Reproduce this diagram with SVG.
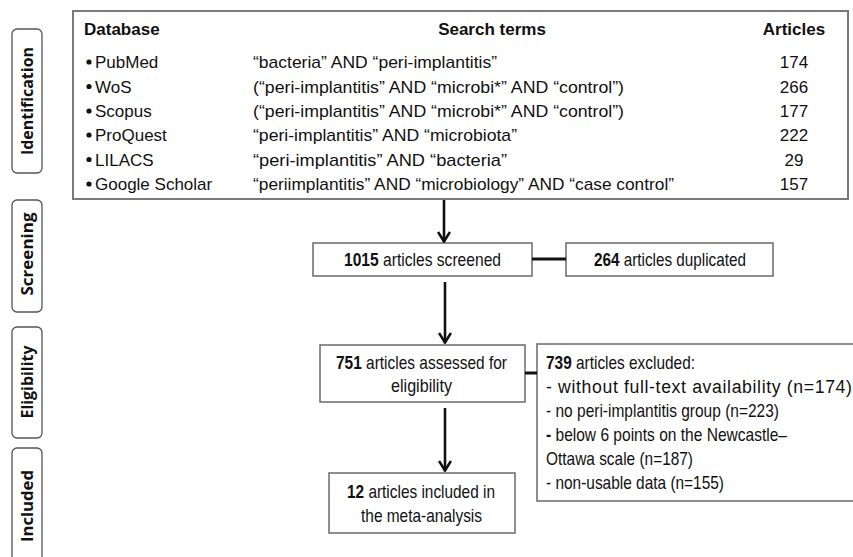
<svg xmlns="http://www.w3.org/2000/svg" width="853" height="557" viewBox="0 0 853 557">
<defs>
<style>
.t{font-family:"Liberation Sans",Arial,sans-serif;font-size:17px;fill:#111}
.b{font-weight:bold}
.f{font-family:"Liberation Sans",Arial,sans-serif;font-size:19px;fill:#111}
.side{font-family:"Open Sans","DejaVu Sans",sans-serif;font-size:16px;font-weight:bold;fill:#111}
.sbox{fill:#fff;stroke:#555;stroke-width:1.3}
.box{fill:#fff;stroke:#6a6a6a;stroke-width:1.5}
.tbl{fill:#fff;stroke:#7a7a7a;stroke-width:2}
.arr{stroke:#111;stroke-width:2.6;fill:none}
.ln{stroke:#111;stroke-width:3;fill:none}
</style>
<marker id="ah" viewBox="0 0 12 14" refX="11" refY="7" markerWidth="12" markerHeight="14" markerUnits="userSpaceOnUse" orient="auto">
<path d="M1,1 L10.5,7 L1,13" fill="none" stroke="#111" stroke-width="2.6"/>
</marker>
</defs>
<rect width="853" height="557" fill="#fff"/>

<g id="side-identification">
<rect class="sbox" x="12" y="29" width="30" height="144" rx="5"/>
<text class="side" transform="translate(33,101) rotate(-90)" text-anchor="middle" textLength="108" lengthAdjust="spacingAndGlyphs">Identification</text>
</g>
<g id="side-screening">
<rect class="sbox" x="12" y="200" width="30" height="112" rx="5"/>
<text class="side" transform="translate(33,254) rotate(-90)" text-anchor="middle" textLength="83" lengthAdjust="spacingAndGlyphs">Screening</text>
</g>
<g id="side-eligibility">
<rect class="sbox" x="12" y="327" width="30" height="111" rx="5"/>
<text class="side" transform="translate(33,382) rotate(-90)" text-anchor="middle" textLength="73" lengthAdjust="spacingAndGlyphs">Eligibility</text>
</g>
<g id="side-included">
<rect class="sbox" x="12" y="448" width="30" height="120" rx="5"/>
<text class="side" transform="translate(33,506) rotate(-90)" text-anchor="middle" textLength="72" lengthAdjust="spacingAndGlyphs">Included</text>
</g>

<g id="search-table">
<rect class="tbl" x="73" y="11" width="775" height="188"/>
<text class="t b" x="84" y="35">Database</text>
<text class="t b" x="492" y="35" text-anchor="middle">Search terms</text>
<text class="t b" x="794" y="35" text-anchor="middle">Articles</text>
<g fill="#111">
<circle cx="89" cy="62" r="2.6"/>
<circle cx="89" cy="86.5" r="2.6"/>
<circle cx="89" cy="111" r="2.6"/>
<circle cx="89" cy="135" r="2.6"/>
<circle cx="89" cy="159.5" r="2.6"/>
<circle cx="89" cy="184" r="2.6"/>
</g>
<text class="t" x="95" y="68">PubMed</text>
<text class="t" x="95" y="92.5">WoS</text>
<text class="t" x="95" y="117">Scopus</text>
<text class="t" x="95" y="141">ProQuest</text>
<text class="t" x="95" y="165.5">LILACS</text>
<text class="t" x="95" y="190">Google Scholar</text>
<text class="t" x="253" y="68" textLength="244" lengthAdjust="spacingAndGlyphs">“bacteria” AND “peri-implantitis”</text>
<text class="t" x="253" y="92.5" textLength="371" lengthAdjust="spacingAndGlyphs">(“peri-implantitis” AND “microbi*” AND “control”)</text>
<text class="t" x="253" y="117" textLength="371" lengthAdjust="spacingAndGlyphs">(“peri-implantitis” AND “microbi*” AND “control”)</text>
<text class="t" x="253" y="141" textLength="264" lengthAdjust="spacingAndGlyphs">“peri-implantitis” AND “microbiota”</text>
<text class="t" x="253" y="165.5" textLength="254" lengthAdjust="spacingAndGlyphs">“peri-implantitis” AND “bacteria”</text>
<text class="t" x="253" y="190" textLength="421" lengthAdjust="spacingAndGlyphs">“periimplantitis” AND “microbiology” AND “case control”</text>
<text class="t" x="794" y="68" text-anchor="middle">174</text>
<text class="t" x="794" y="92.5" text-anchor="middle">266</text>
<text class="t" x="794" y="117" text-anchor="middle">177</text>
<text class="t" x="794" y="141" text-anchor="middle">222</text>
<text class="t" x="794" y="165.5" text-anchor="middle">29</text>
<text class="t" x="794" y="190" text-anchor="middle">157</text>
</g>

<g id="screened">
<rect class="box" x="313" y="243" width="219" height="33"/>
<text class="f" x="422.5" y="266" text-anchor="middle" textLength="157" lengthAdjust="spacingAndGlyphs"><tspan class="b">1015</tspan> articles screened</text>
</g>
<g id="duplicated">
<rect class="box" x="566" y="243" width="207" height="33"/>
<text class="f" x="670" y="266" text-anchor="middle" textLength="152" lengthAdjust="spacingAndGlyphs"><tspan class="b">264</tspan> articles duplicated</text>
</g>
<g id="eligibility">
<rect class="box" x="320" y="345" width="205" height="57"/>
<text class="f" x="421.5" y="369" text-anchor="middle" textLength="171" lengthAdjust="spacingAndGlyphs"><tspan class="b">751</tspan> articles assessed for</text>
<text class="f" x="421.5" y="392" text-anchor="middle" textLength="61" lengthAdjust="spacingAndGlyphs">eligibility</text>
</g>
<g id="included">
<rect class="box" x="329" y="473" width="186" height="60"/>
<text class="f" x="421" y="498" text-anchor="middle" textLength="148" lengthAdjust="spacingAndGlyphs"><tspan class="b">12</tspan> articles included in</text>
<text class="f" x="421.5" y="522" text-anchor="middle" textLength="121" lengthAdjust="spacingAndGlyphs">the meta-analysis</text>
</g>
<g id="excluded">
<rect class="box" x="537" y="344" width="330" height="157"/>
<text class="f" x="546" y="369" textLength="149" lengthAdjust="spacingAndGlyphs"><tspan class="b">739</tspan> articles excluded:</text>
<text class="f" transform="translate(546,393) scale(0.93,1)" textLength="329" lengthAdjust="spacing">- without full-text availability (n=174)</text>
<text class="f" x="546" y="417" textLength="233" lengthAdjust="spacingAndGlyphs">- no peri-implantitis group (n=223)</text>
<text class="f" x="546" y="441" textLength="241" lengthAdjust="spacingAndGlyphs"><tspan class="b">-</tspan> below 6 points on the Newcastle–</text>
<text class="f" x="546" y="465" textLength="147" lengthAdjust="spacingAndGlyphs">Ottawa scale (n=187)</text>
<text class="f" x="546" y="489" textLength="178" lengthAdjust="spacingAndGlyphs">- non-usable data (n=155)</text>
</g>

<g id="connectors">
<line class="arr" x1="444" y1="200" x2="444" y2="242" marker-end="url(#ah)"/>
<line class="arr" x1="445" y1="282" x2="445" y2="343" marker-end="url(#ah)"/>
<line class="arr" x1="445" y1="408" x2="445" y2="471" marker-end="url(#ah)"/>
<line class="ln" x1="532" y1="259" x2="566" y2="259"/>
<line class="ln" x1="525" y1="373" x2="537" y2="373"/>
</g>
</svg>
